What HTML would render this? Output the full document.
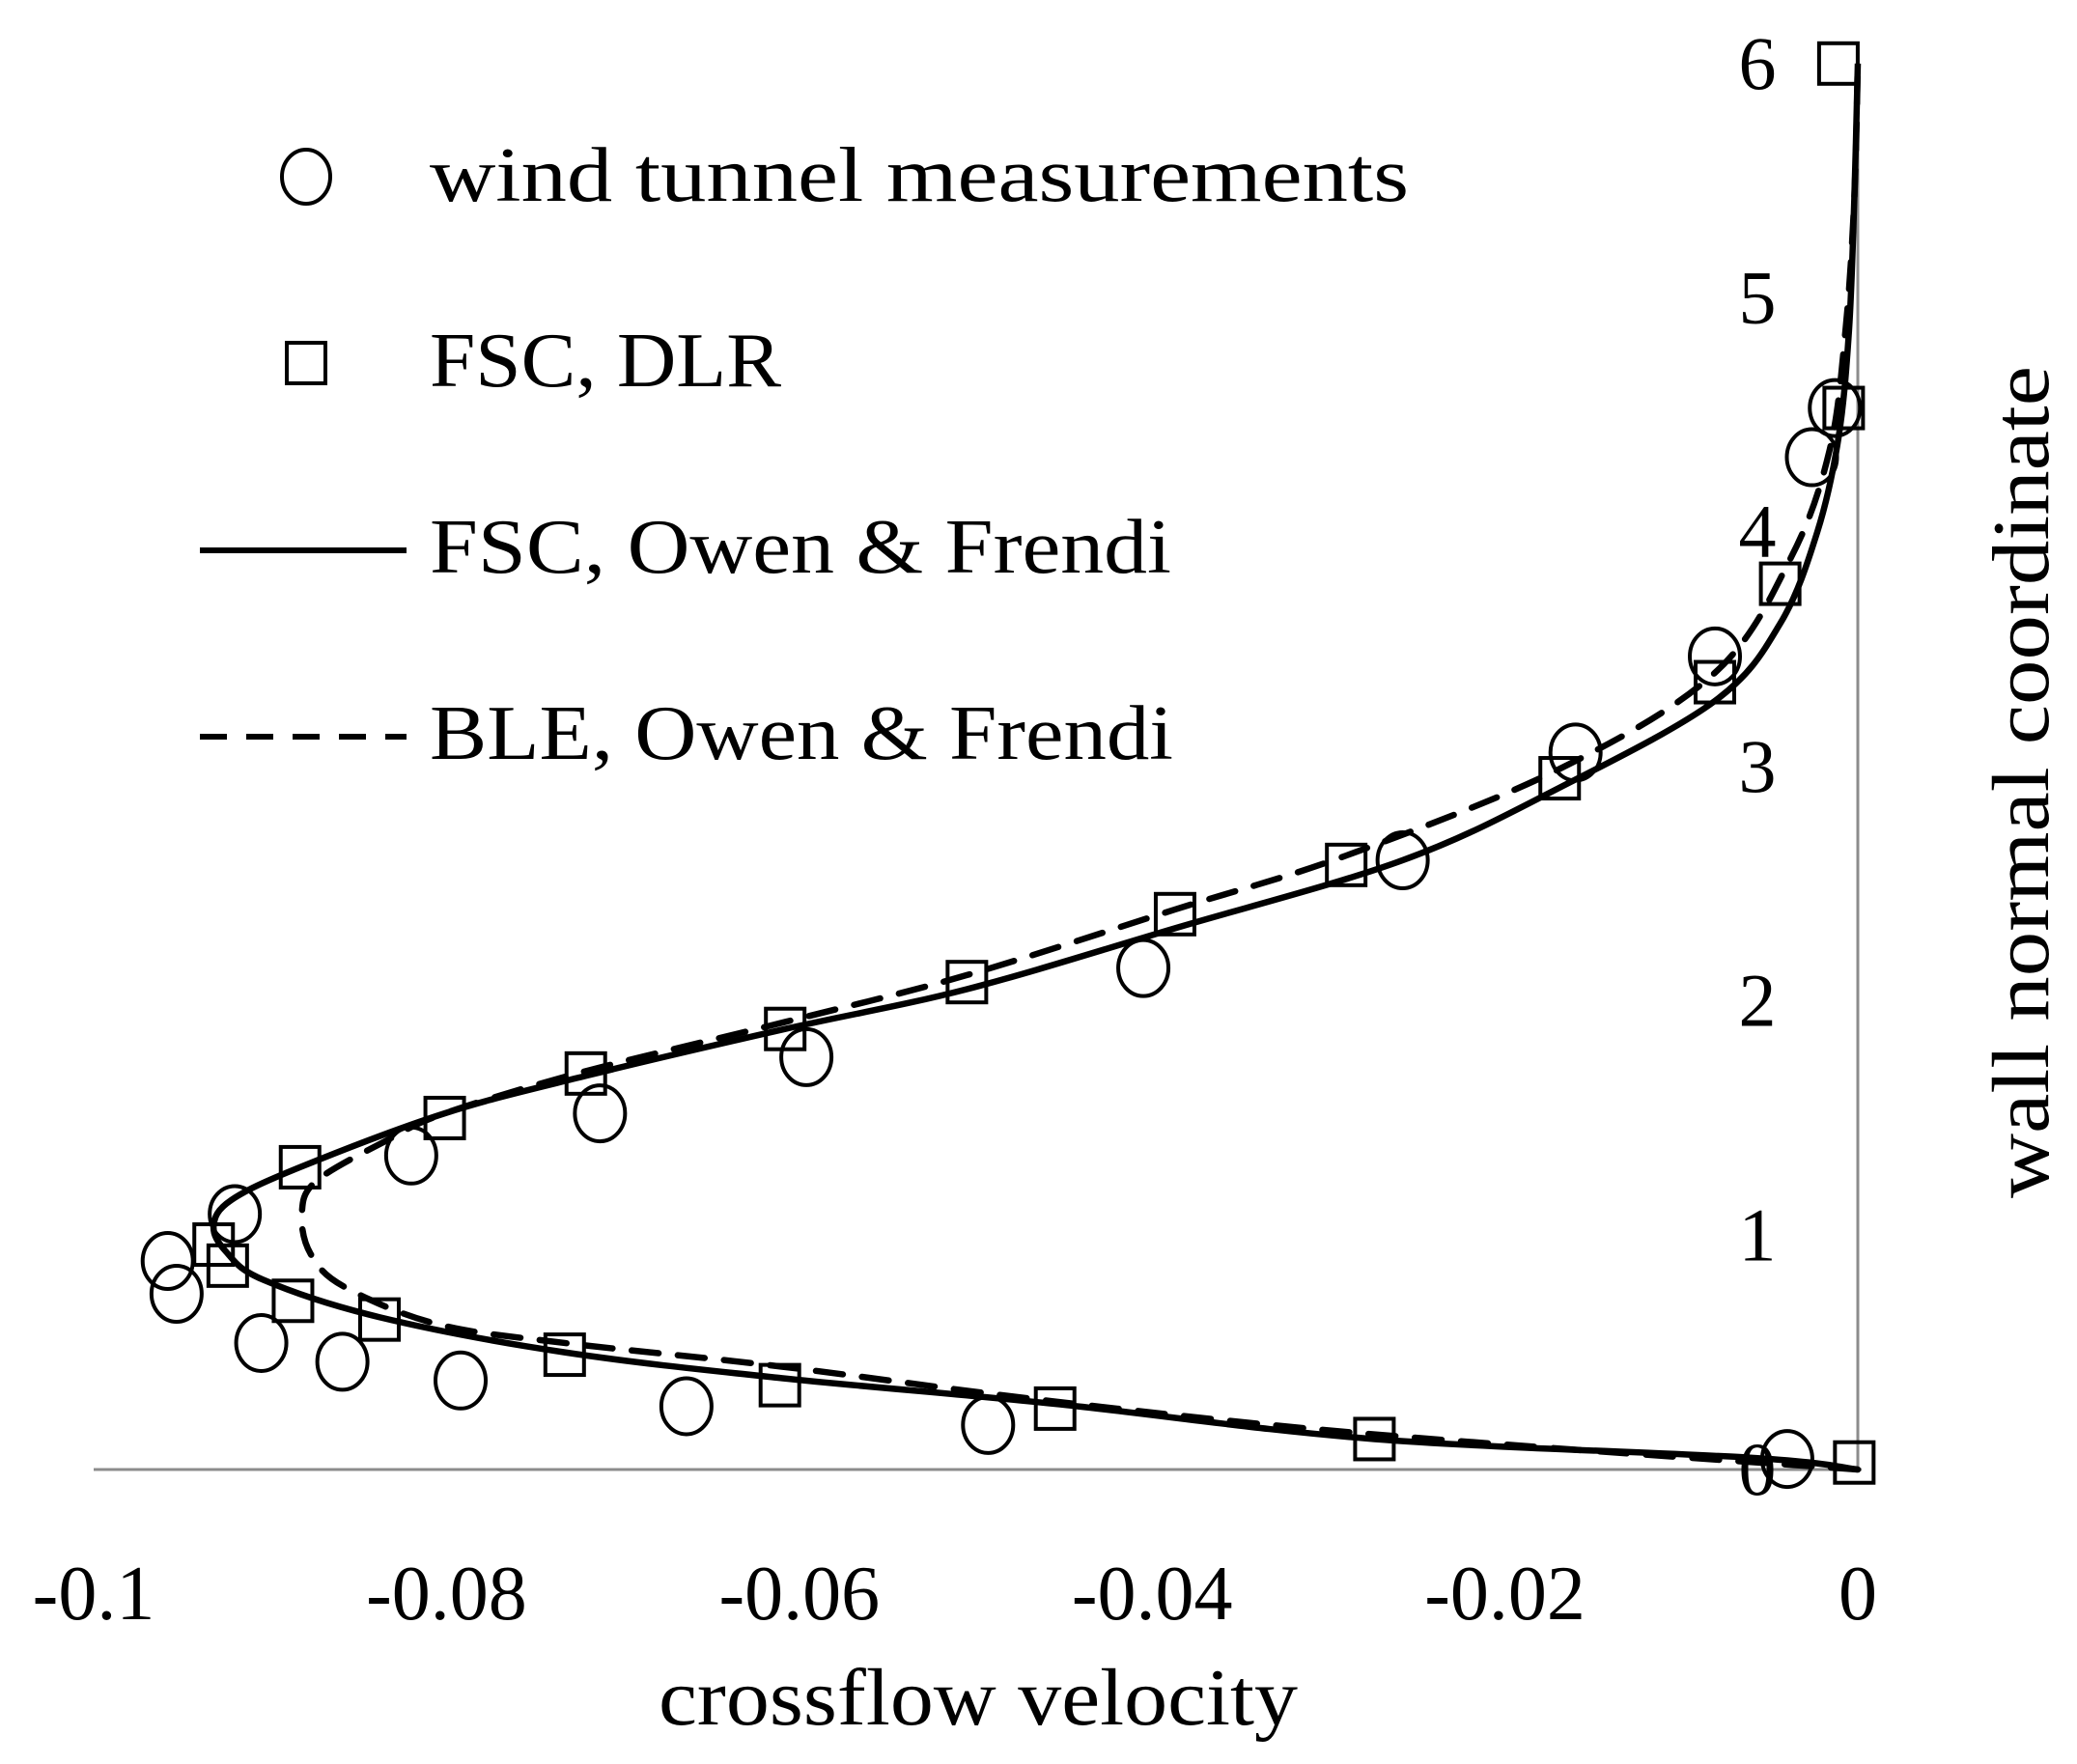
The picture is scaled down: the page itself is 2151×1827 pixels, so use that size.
<!DOCTYPE html>
<html><head><meta charset="utf-8"><style>
html,body{margin:0;padding:0;background:#fff}
svg{display:block}
text{font-family:"Liberation Serif",serif;fill:#000}
</style></head><body>
<svg id="chart" width="2151" height="1827" viewBox="0 0 2151 1827" xmlns="http://www.w3.org/2000/svg">
<g id="axes"></g>
<g id="lines"></g>
<g id="marks"></g>
<g id="legend">
  <ellipse cx="317" cy="183" rx="25" ry="28" fill="none" stroke="#000" stroke-width="4"/>
  <text x="445" y="208" font-size="80" textLength="1014" lengthAdjust="spacingAndGlyphs">wind tunnel measurements</text>
  <rect x="297" y="355" width="40" height="42" fill="none" stroke="#000" stroke-width="4"/>
  <text x="445" y="400" font-size="80" textLength="364" lengthAdjust="spacingAndGlyphs">FSC, DLR</text>
  <line x1="207" y1="570" x2="421" y2="570" stroke="#000" stroke-width="6"/>
  <text x="445" y="593" font-size="80" textLength="768" lengthAdjust="spacingAndGlyphs">FSC, Owen &amp; Frendi</text>
  <line x1="207" y1="763" x2="421" y2="763" stroke="#000" stroke-width="6" stroke-dasharray="28,20"/>
  <text x="445" y="786" font-size="80" textLength="770" lengthAdjust="spacingAndGlyphs">BLE, Owen &amp; Frendi</text>
</g>
</svg>
<script>
const xTicks=[-0.1,-0.08,-0.06,-0.04,-0.02,0];
const xTickLabels=["-0.1","-0.08","-0.06","-0.04","-0.02","0"];
const yTicks=[0,1,2,3,4,5,6];
const yTickLabels=["0","1","2","3","4","5","6"];
const windX=[-0.004,-0.0493,-0.0664,-0.0792,-0.0859,-0.0905,-0.0953,-0.0958,-0.092,-0.082,-0.0713,-0.0596,-0.0405,-0.0258,-0.016,-0.0081,-0.0026,-0.0013];
const windY=[0.045,0.19,0.27,0.38,0.46,0.54,0.75,0.89,1.09,1.34,1.52,1.76,2.14,2.60,3.06,3.47,4.32,4.53];
const dlrX=[-0.0002,-0.0274,-0.0455,-0.0611,-0.0733,-0.0838,-0.0887,-0.0924,-0.0932,-0.0883,-0.0801,-0.0721,-0.0608,-0.0505,-0.0387,-0.029,-0.0169,-0.0081,-0.0044,-0.0008,-0.0011];
const dlrY=[0.03,0.13,0.26,0.36,0.49,0.64,0.72,0.87,0.96,1.29,1.50,1.69,1.88,2.08,2.37,2.58,2.95,3.36,3.78,4.53,6.0];
const fscX=[0,-0.006,-0.0274,-0.0455,-0.061,-0.0733,-0.0838,-0.0904,-0.0925,-0.0932,-0.0922,-0.0883,-0.0801,-0.0721,-0.0608,-0.0505,-0.0387,-0.0258,-0.0169,-0.0081,-0.0044,-0.0023,-0.0011,-0.0005,-0.0002,0];
const fscY=[0,0.05,0.13,0.28,0.39,0.5,0.65,0.81,0.93,1.04,1.15,1.29,1.52,1.68,1.88,2.05,2.31,2.6,2.91,3.28,3.61,4.0,4.4,4.86,5.42,6.0];
const bleX=[0,-0.0274,-0.0455,-0.0611,-0.0733,-0.0805,-0.0858,-0.0877,-0.0882,-0.0874,-0.0835,-0.0801,-0.0721,-0.0608,-0.0505,-0.0387,-0.029,-0.0169,-0.0081,-0.0038,-0.0016,-0.0007,-0.0002,0];
const bleY=[0,0.15,0.29,0.44,0.54,0.62,0.78,0.92,1.09,1.23,1.40,1.52,1.70,1.91,2.11,2.39,2.62,2.99,3.40,3.89,4.35,4.86,5.42,6.0];

const NS="http://www.w3.org/2000/svg";
const X0=1924, XS=18270;
const Y0=1522, YS=242.7;
function sx(v){return X0+v*XS;}
function sy(v){return Y0-v*YS;}
function mk(tag,attrs,parent){const e=document.createElementNS(NS,tag);for(const k in attrs)e.setAttribute(k,attrs[k]);parent.appendChild(e);return e;}
const axes=document.getElementById('axes');
let e;
e=mk('line',{x1:sx(-0.1),y1:Y0,x2:sx(0)+4,y2:Y0,stroke:'#8c8c8c','stroke-width':3},axes);


e=mk('line',{x1:sx(0),y1:sy(6),x2:sx(0),y2:Y0,stroke:'#8c8c8c','stroke-width':3},axes);


xTicks.forEach((t,i)=>{
  const tx=mk('text',{x:sx(t),y:1677,'font-size':80,'text-anchor':'middle'},axes);
  tx.textContent=xTickLabels[i];
  
  
});
yTicks.forEach((t,i)=>{
  const tx=mk('text',{x:1820,y:sy(t)+26,'font-size':78,'text-anchor':'middle'},axes);
  tx.textContent=yTickLabels[i];
  
  
});
e=mk('text',{x:1013,y:1786,'font-size':84,'text-anchor':'middle',textLength:662,lengthAdjust:'spacingAndGlyphs'},axes);
e.textContent='crossflow velocity';


e=mk('text',{x:0,y:0,'font-size':84,'text-anchor':'middle',textLength:862,lengthAdjust:'spacingAndGlyphs',transform:'translate(2121,810) rotate(-90)'},axes);
e.textContent='wall normal coordinate';



function pathD(xs,ys){
  const p=xs.map((x,i)=>[sx(x),sy(ys[i])]);
  let d='M'+p[0][0]+','+p[0][1];
  for(let i=0;i<p.length-1;i++){
    const p0=p[i-1]||p[i],p1=p[i],p2=p[i+1],p3=p[i+2]||p[i+1];
    const c1=[p1[0]+(p2[0]-p0[0])/6,p1[1]+(p2[1]-p0[1])/6];
    const c2=[p2[0]-(p3[0]-p1[0])/6,p2[1]-(p3[1]-p1[1])/6];
    d+=' C'+c1+' '+c2+' '+p2;
  }
  return d;
}
const lines=document.getElementById('lines');
e=mk('path',{d:pathD(bleX,bleY),fill:'none',stroke:'#000','stroke-width':6.5,'stroke-dasharray':'28,20','stroke-linecap':'round'},lines);


e=mk('path',{d:pathD(fscX,fscY),fill:'none',stroke:'#000','stroke-width':6.5},lines);


const marks=document.getElementById('marks');
windX.forEach((x,i)=>{
  const c=mk('ellipse',{cx:sx(x),cy:sy(windY[i]),rx:26,ry:29,fill:'none',stroke:'#000','stroke-width':4},marks);
  
  
});
dlrX.forEach((x,i)=>{
  const r=mk('rect',{x:sx(x)-20,y:sy(dlrY[i])-21,width:40,height:42,fill:'none',stroke:'#000','stroke-width':4},marks);
  
  
});
</script>
</body></html>
